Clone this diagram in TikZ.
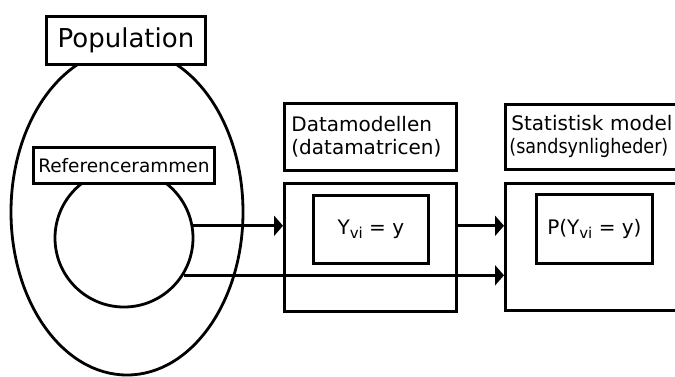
\documentclass[tikz,border=0pt]{standalone}
\usepackage{fontspec}
\setmainfont{DejaVu Sans}
\usetikzlibrary{shapes.geometric,arrows.meta}
\newcommand{\sbvi}{\raisebox{-4pt}{\fontsize{15}{15}\selectfont vi}}
\begin{document}
\begin{tikzpicture}[x=1pt,y=-1pt,
  line width=2.8pt,
  box/.style={draw, fill=white, inner sep=0pt, anchor=north west},
  title/.style={font=\fontsize{20}{23}\selectfont},
  conn/.style={-{Triangle[length=9pt,width=20pt]}, line width=2.6pt},
]
\useasboundingbox (0,0) rectangle (675,376);
\begin{scope}
\clip (0,0) rectangle (675,376);

% population and sampling frame
\node[draw, ellipse, minimum width=232pt, minimum height=326pt, inner sep=0pt] (pop) at (127,212) {};
\node[box, minimum width=159pt, minimum height=48pt, font=\fontsize{26}{30}\selectfont] (poplbl) at (45,15) {Population};
\node[draw, circle, minimum size=138pt, inner sep=0pt] (frame) at (124,238) {};
\node[box, minimum width=181pt, minimum height=36pt, font=\fontsize{18.5}{22}\selectfont] (framelbl) at (32,146) {Referencerammen};

% data model
\node[box, title, minimum height=67pt, text width=158pt, inner xsep=7pt, align=left] (dmlbl) at (283,102)
  {Datamodellen\\(datamatricen)};
\node[box, minimum width=172pt, minimum height=128pt] (dm) at (283,182) {};
\node[box, title, minimum width=115pt, minimum height=68pt] (dmin) at (312,194) {Y\sbvi{} = y};

% statistical model
\node[box, title, minimum height=65pt, text width=180pt, inner xsep=6pt, align=left] (smlbl) at (504,103)
  {Statistisk model\\\hspace*{-2pt}\scalebox{0.88}[1]{(sandsynligheder)}};
\node[box, minimum width=200pt, minimum height=127pt] (sm) at (504,182) {};
\node[box, title, minimum width=116pt, minimum height=69pt] (smin) at (535,193) {P(Y\sbvi{} = y)};

% connectors
\draw[conn] (frame.10) -- (frame.10 -| dm.west);
\draw[conn] (frame.-32) -- (frame.-32 -| sm.west);
\draw[conn] (dm.east |- frame.10) -- (sm.west |- frame.10);
\end{scope}
\end{tikzpicture}
\end{document}
